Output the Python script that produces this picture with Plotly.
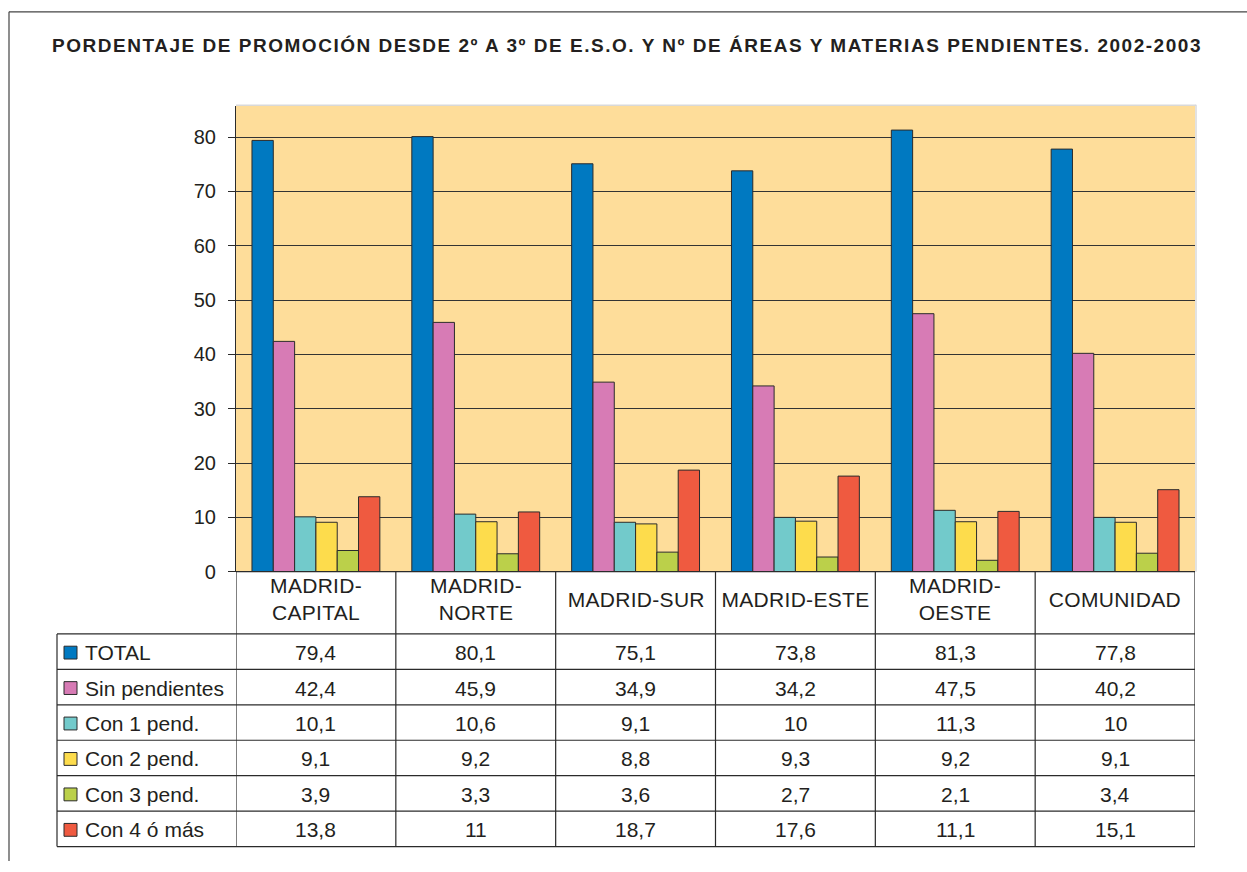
import json
import plotly.graph_objects as go

# data
zonas = ["MADRID-CAPITAL", "MADRID-NORTE", "MADRID-SUR", "MADRID-ESTE", "MADRID-OESTE", "COMUNIDAD"]
zonas_cabecera = ["MADRID-<br>CAPITAL", "MADRID-<br>NORTE", "MADRID-SUR", "MADRID-ESTE", "MADRID-<br>OESTE", "COMUNIDAD"]
series = ["TOTAL", "Sin pendientes", "Con 1 pend.", "Con 2 pend.", "Con 3 pend.", "Con 4 ó más"]
total = [79.4, 80.1, 75.1, 73.8, 81.3, 77.8]
sin_pendientes = [42.4, 45.9, 34.9, 34.2, 47.5, 40.2]
con_1 = [10.1, 10.6, 9.1, 10, 11.3, 10]
con_2 = [9.1, 9.2, 8.8, 9.3, 9.2, 9.1]
con_3 = [3.9, 3.3, 3.6, 2.7, 2.1, 3.4]
con_4 = [13.8, 11, 18.7, 17.6, 11.1, 15.1]
colores = ["#0079C1", "#D77BB5", "#72CACB", "#FDDC4C", "#BBD04A", "#EF5A40"]
titulo = "PORDENTAJE DE PROMOCIÓN DESDE 2º A 3º DE E.S.O. Y Nº DE ÁREAS Y MATERIAS PENDIENTES. 2002-2003"

valores = [total, sin_pendientes, con_1, con_2, con_3, con_4]

W, H = 1247, 872
FONT = "Liberation Sans, Arial, Helvetica, sans-serif"
LINE = "#2b2b2b"
TXT = "#231f20"

def px(x):
    return x / W

def py(y):
    return 1 - y / H

fig = go.Figure()
for nombre, vals, col in zip(series, valores, colores):
    fig.add_trace(go.Bar(x=list(range(len(zonas))), y=vals, name=nombre,
                         marker=dict(color=col, line=dict(color=LINE, width=1))))

shapes = []
annotations = []
tracking = []  # (anchor, letter spacing, target width) per annotation, same order

# outer frame
shapes.append(dict(type="line", xref="paper", yref="paper", x0=px(9), x1=1, y0=py(12), y1=py(12),
                   line=dict(color="#444", width=1.2)))
shapes.append(dict(type="line", xref="paper", yref="paper", x0=px(9), x1=px(9), y0=py(12), y1=0,
                   line=dict(color="#444", width=1.2)))
# faint edge on top and right of the plot area
shapes.append(dict(type="line", xref="paper", yref="paper", x0=px(236), x1=px(1196), y0=py(106.5), y1=py(106.5),
                   line=dict(color="#d9d9d9", width=1.5)))
shapes.append(dict(type="line", xref="paper", yref="paper", x0=px(1196), x1=px(1196), y0=py(106), y1=py(579),
                   line=dict(color="#d9d9d9", width=1.5)))

# table grid
row_top = 642
row_h = 35.9
n = len(zonas)
table_bottom = row_top + len(series) * row_h
shapes.append(dict(type="line", xref="x", yref="paper", x0=-0.5, x1=n - 0.5, y0=py(579), y1=py(579),
                   line=dict(color=LINE, width=1.2)))
for r in range(len(series) + 1):
    yy = row_top + r * row_h
    shapes.append(dict(type="line", xref="paper", yref="paper", x0=px(57), x1=px(1195), y0=py(yy), y1=py(yy),
                       line=dict(color=LINE, width=1.2)))
for i in range(n + 1):
    shapes.append(dict(type="line", xref="x", yref="paper", x0=i - 0.5, x1=i - 0.5, y0=py(579),
                       y1=py(table_bottom), line=dict(color=LINE, width=1.2)))
shapes.append(dict(type="line", xref="paper", yref="paper", x0=px(57), x1=px(57), y0=py(row_top),
                   y1=py(table_bottom), line=dict(color=LINE, width=1.2)))

# category header row
for i, lab in enumerate(zonas_cabecera):
    annotations.append(dict(x=i, xref="x", y=py(607), yref="paper", text=lab, showarrow=False,
                            xanchor="center", yanchor="middle",
                            font=dict(family=FONT, size=21, color=TXT)))
    tracking.append(["center", 0.3, 0])

# rows: legend key, label, values
for r, (nombre, vals, col) in enumerate(zip(series, valores, colores)):
    yc = row_top + r * row_h + row_h / 2
    shapes.append(dict(type="rect", xref="paper", yref="paper", x0=px(64), x1=px(77), y0=py(yc - 5.5),
                       y1=py(yc + 7.5), fillcolor=col, line=dict(color=LINE, width=1)))
    annotations.append(dict(x=px(83), xref="paper", y=py(yc + 1), yref="paper", text=nombre, showarrow=False,
                            xanchor="left", yanchor="middle",
                            font=dict(family=FONT, size=21, color=TXT)))
    tracking.append(["left", 0, 0])
    for i, v in enumerate(vals):
        annotations.append(dict(x=i, xref="x", y=py(yc + 1), yref="paper", text=f"{v:g}".replace(".", ","),
                                showarrow=False, xanchor="center", yanchor="middle",
                                font=dict(family=FONT, size=21, color=TXT)))
        tracking.append(["center", 0, 0])

annotations.append(dict(x=px(50), xref="paper", y=py(46), yref="paper", showarrow=False, xanchor="left",
                        yanchor="middle", text=titulo,
                        font=dict(family=FONT, size=19, color=TXT, weight="bold")))
tracking.append(["left", 0, 1150])

fig.update_layout(
    width=W, height=H,
    margin=dict(l=0, r=0, t=0, b=0),
    paper_bgcolor="white",
    plot_bgcolor="#FEDD9A",
    barmode="group", bargap=0.2, bargroupgap=0,
    showlegend=False,
    shapes=shapes,
    annotations=annotations,
    font=dict(family=FONT, color=TXT),
)
fig.update_xaxes(domain=[px(236), px(1195)], range=[-0.5, n - 0.5], showticklabels=False,
                 showgrid=False, zeroline=False, showline=False, fixedrange=True)
fig.update_yaxes(domain=[py(579), py(107)], range=[0, 85.8], dtick=10, tick0=0,
                 showgrid=True, gridcolor="#333", gridwidth=1, zeroline=False,
                 showline=True, linecolor=LINE, linewidth=1.2,
                 ticks="outside", ticklen=7, tickcolor=LINE, ticklabelstandoff=8,
                 tickfont=dict(family=FONT, size=20, color=TXT))

# widely tracked type as in the original; keep anchors where they were
post = """
document.body.style.margin = '0';
var spec = %s;
var ts = document.querySelectorAll('.annotation-text');
ts.forEach(function(t, k){
  var s = spec[k]; if (!s) return;
  if (!s[1] && !s[2]) return;
  var b0 = t.getBBox();
  var sp = s[1];
  if (s[2] > 0) sp = (s[2] - b0.width) / t.textContent.length;
  t.style.letterSpacing = sp + 'px';
  var b1 = t.getBBox();
  var dx = s[0] === 'left' ? b0.x - b1.x : (b0.x + b0.width / 2) - (b1.x + b1.width / 2 - sp / 2);
  var tr = t.getAttribute('transform') || '';
  t.setAttribute('transform', tr + ' translate(' + dx + ',0)');
});
""" % json.dumps(tracking)

fig.write_html("out.html", post_script=post, config={"displayModeBar": False})
